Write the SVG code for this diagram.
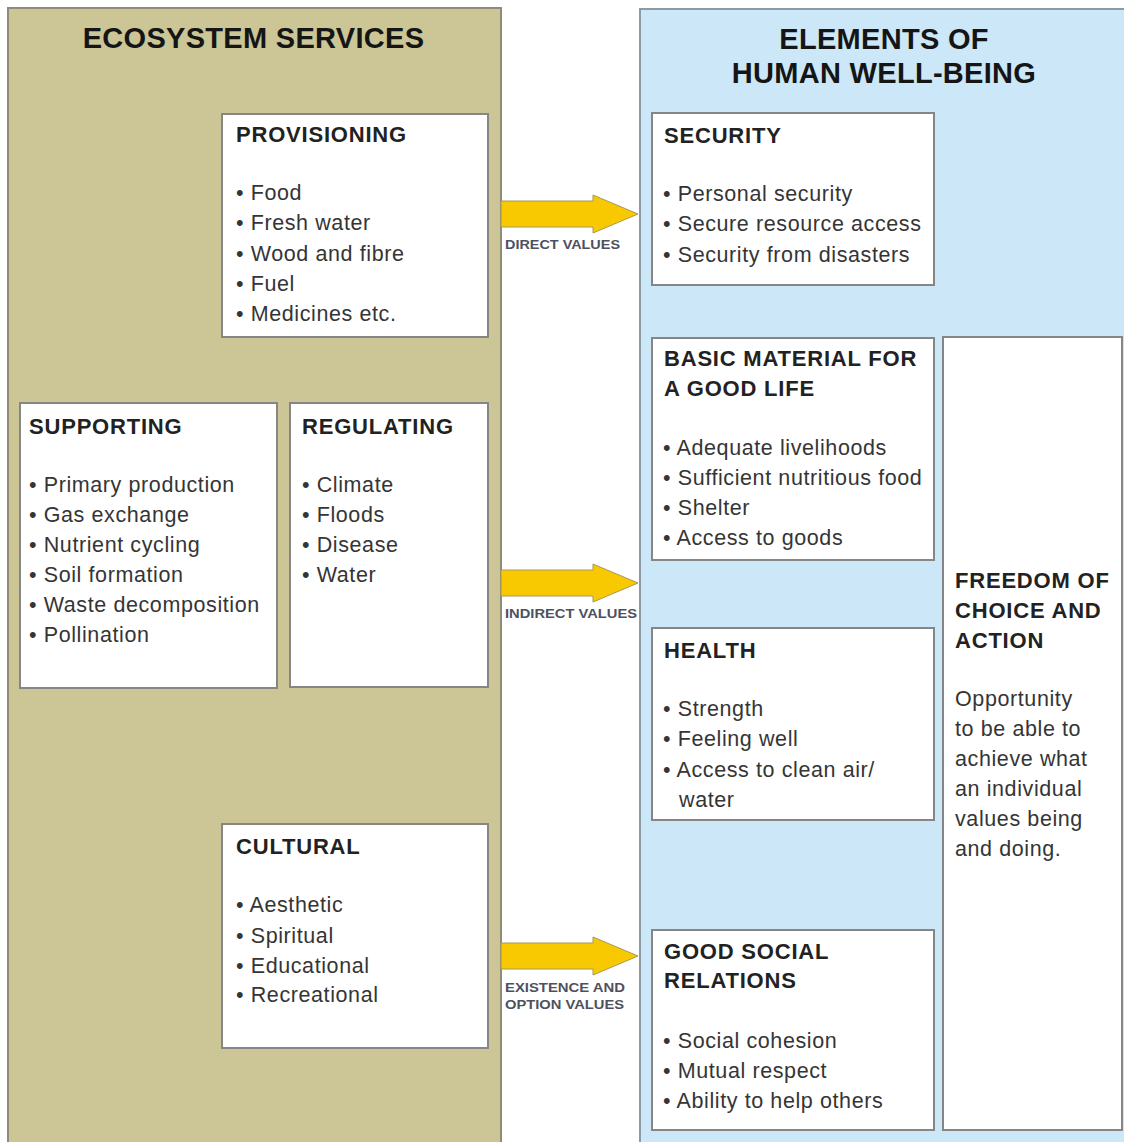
<svg xmlns="http://www.w3.org/2000/svg" width="1124" height="1142" viewBox="0 0 1124 1142">
  <style>
    .panel-es { fill: #ccc596; stroke: #8e8b78; stroke-width: 2; }
    .panel-hw { fill: #cce7f7; stroke: #8c9aa4; stroke-width: 2; }
    .box { fill: #ffffff; stroke: #868686; stroke-width: 2; }
    .title { font-family: "Liberation Sans", Arial, sans-serif; font-weight: bold; font-size: 29px; fill: #151515; letter-spacing: 0.3px; }
    .head { font-family: "Liberation Sans", Arial, sans-serif; font-weight: bold; font-size: 22px; fill: #222222; letter-spacing: 0.8px; }
    .item { font-family: "Liberation Sans", Arial, sans-serif; font-size: 21.5px; fill: #353535; letter-spacing: 0.6px; }
    .arrow { fill: #f8c800; stroke: #a89a55; stroke-width: 1; }
    .alabel { font-family: "Liberation Sans", Arial, sans-serif; font-weight: bold; font-size: 12.5px; fill: #4e5060; }
  </style>

  <rect width="1124" height="1142" fill="#ffffff"/>

  <!-- Left panel: ecosystem services -->
  <g id="ecosystem-services">
    <rect class="panel-es" x="8" y="8" width="493" height="1150"/>
    <text class="title" x="253.5" y="48" text-anchor="middle">ECOSYSTEM SERVICES</text>
  </g>

  <!-- Right panel: elements of human well-being -->
  <g id="human-well-being">
    <rect class="panel-hw" x="640" y="9" width="500" height="1150"/>
    <text class="title" x="884" y="49" text-anchor="middle">ELEMENTS OF</text>
    <text class="title" x="884" y="83" text-anchor="middle">HUMAN WELL-BEING</text>
  </g>

  <g id="provisioning">
    <rect class="box" x="222" y="114" width="266" height="223"/>
    <text class="head" x="236" y="142">PROVISIONING</text>
    <text class="item" x="236" y="200">• Food</text>
    <text class="item" x="236" y="230">• Fresh water</text>
    <text class="item" x="236" y="260.5">• Wood and fibre</text>
    <text class="item" x="236" y="291">• Fuel</text>
    <text class="item" x="236" y="321">• Medicines etc.</text>
  </g>

  <g id="supporting">
    <rect class="box" x="20" y="403" width="257" height="285"/>
    <text class="head" x="29" y="434">SUPPORTING</text>
    <text class="item" x="29" y="492">• Primary production</text>
    <text class="item" x="29" y="522">• Gas exchange</text>
    <text class="item" x="29" y="552">• Nutrient cycling</text>
    <text class="item" x="29" y="582">• Soil formation</text>
    <text class="item" x="29" y="612">• Waste decomposition</text>
    <text class="item" x="29" y="642">• Pollination</text>
  </g>

  <g id="regulating">
    <rect class="box" x="290" y="403" width="198" height="284"/>
    <text class="head" x="302" y="434">REGULATING</text>
    <text class="item" x="302" y="492">• Climate</text>
    <text class="item" x="302" y="522">• Floods</text>
    <text class="item" x="302" y="552">• Disease</text>
    <text class="item" x="302" y="582">• Water</text>
  </g>

  <g id="cultural">
    <rect class="box" x="222" y="824" width="266" height="224"/>
    <text class="head" x="236" y="854">CULTURAL</text>
    <text class="item" x="236" y="912">• Aesthetic</text>
    <text class="item" x="236" y="943">• Spiritual</text>
    <text class="item" x="236" y="973">• Educational</text>
    <text class="item" x="236" y="1002">• Recreational</text>
  </g>

  <g id="security">
    <rect class="box" x="652" y="113" width="282" height="172"/>
    <text class="head" x="664" y="143">SECURITY</text>
    <text class="item" x="663" y="201">• Personal security</text>
    <text class="item" x="663" y="231">• Secure resource access</text>
    <text class="item" x="663" y="262">• Security from disasters</text>
  </g>

  <g id="basic-material">
    <rect class="box" x="652" y="338" width="282" height="222"/>
    <text class="head" x="664" y="366">BASIC MATERIAL FOR</text>
    <text class="head" x="664" y="396">A GOOD LIFE</text>
    <text class="item" x="663" y="455">• Adequate livelihoods</text>
    <text class="item" x="663" y="485">• Sufficient nutritious food</text>
    <text class="item" x="663" y="515">• Shelter</text>
    <text class="item" x="663" y="545">• Access to goods</text>
  </g>

  <g id="health">
    <rect class="box" x="652" y="628" width="282" height="192"/>
    <text class="head" x="664" y="658">HEALTH</text>
    <text class="item" x="663" y="716">• Strength</text>
    <text class="item" x="663" y="746">• Feeling well</text>
    <text class="item" x="663" y="777">• Access to clean air/</text>
    <text class="item" x="679" y="807">water</text>
  </g>

  <g id="social-relations">
    <rect class="box" x="652" y="930" width="282" height="200"/>
    <text class="head" x="664" y="959">GOOD SOCIAL</text>
    <text class="head" x="664" y="988">RELATIONS</text>
    <text class="item" x="663" y="1048">• Social cohesion</text>
    <text class="item" x="663" y="1078">• Mutual respect</text>
    <text class="item" x="663" y="1108">• Ability to help others</text>
  </g>

  <g id="freedom">
    <rect class="box" x="943" y="337" width="179" height="793"/>
    <text class="head" x="955" y="588">FREEDOM OF</text>
    <text class="head" x="955" y="618">CHOICE AND</text>
    <text class="head" x="955" y="648">ACTION</text>
    <text class="item" x="955" y="706">Opportunity</text>
    <text class="item" x="955" y="736">to be able to</text>
    <text class="item" x="955" y="766">achieve what</text>
    <text class="item" x="955" y="796">an individual</text>
    <text class="item" x="955" y="826">values being</text>
    <text class="item" x="955" y="856">and doing.</text>
  </g>

  <!-- Value arrows between the two panels -->
  <g id="connectors">
    <polygon class="arrow" points="501,201 593,201 593,195 638,214 593,233 593,227 501,227"/>
    <text class="alabel" x="505" y="249" textLength="115" lengthAdjust="spacingAndGlyphs">DIRECT VALUES</text>

    <polygon class="arrow" points="501,570 593,570 593,564 638,583 593,602 593,596 501,596"/>
    <text class="alabel" x="505" y="618" textLength="132" lengthAdjust="spacingAndGlyphs">INDIRECT VALUES</text>

    <polygon class="arrow" points="501,943 593,943 593,937 638,956 593,975 593,969 501,969"/>
    <text class="alabel" x="505" y="992" textLength="120" lengthAdjust="spacingAndGlyphs">EXISTENCE AND</text>
    <text class="alabel" x="505" y="1009" textLength="119" lengthAdjust="spacingAndGlyphs">OPTION VALUES</text>
  </g>
</svg>
